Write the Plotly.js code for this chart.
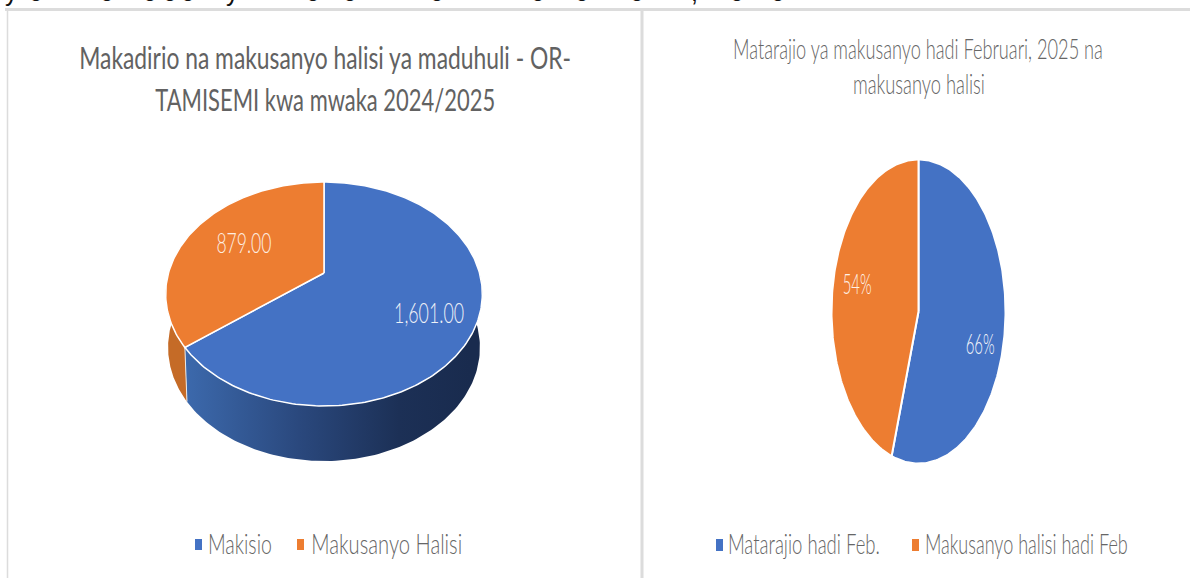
<!DOCTYPE html>
<html>
<head>
<meta charset="utf-8">
<script src="https://cdn.plot.ly/plotly-3.0.1.min.js"></script>
<style>html,body{margin:0;padding:0;background:#fff;overflow:hidden}#chart{width:1190px;height:578px}</style>
</head>
<body>
<div id="chart"></div>
<script>
// ---- data ----
const leftCategories = ["Makisio", "Makusanyo Halisi"];
const leftValues = [1601, 879];
const leftLabels = ["1,601.00", "879.00"];
const rightCategories = ["Matarajio hadi Feb.", "Makusanyo halisi hadi Feb"];
const rightValues = [66, 54];
const rightLabels = ["66%", "54%"];
const leftTitle = ["Makadirio na makusanyo halisi ya maduhuli - OR-", "TAMISEMI kwa mwaka 2024/2025"];
const rightTitle = ["Matarajio ya makusanyo hadi Februari, 2025 na", "makusanyo halisi"];
const sliceColors = ["#4472c4", "#ed7d31"];

// ---- styling / projection of the discs ----
const thinFont = "Lato, 'Open Sans', sans-serif";
const tilted = {cx: 324, R: 155.5, a: 56.9, b: 273, c: -0.1875};
const flat = {cx: 918.5, rx: 87, cy: 311.5, ry: 152};

function tiltedPoint(frac) {
  const t = frac * 2 * Math.PI, u = Math.sin(t), v = -Math.cos(t);
  const d = 1 + tilted.c * v;
  return {x: tilted.cx + tilted.R * u / d, y: (tilted.a * v + tilted.b) / d, v};
}
function wallPoint(frac) {
  const p = tiltedPoint(frac);
  return {x: tilted.cx + 0.985 * (p.x - tilted.cx), y: p.y + 53 + 2 * p.v};
}
function flatPoint(frac) {
  const t = frac * 2 * Math.PI;
  return {x: flat.cx + flat.rx * Math.sin(t), y: flat.cy - flat.ry * Math.cos(t)};
}
function spans(values) {
  const total = values.reduce((a, b) => a + b, 0);
  let acc = 0;
  return values.map(v => { const s = acc / total; acc += v; return [s, acc / total]; });
}
function slice(span, pointAt, apex, color, name, seam) {
  const xs = [apex.x], ys = [apex.y];
  const n = Math.max(2, Math.ceil((span[1] - span[0]) * 360));
  for (let i = 0; i <= n; i++) {
    const p = pointAt(span[0] + (span[1] - span[0]) * i / n);
    xs.push(p.x); ys.push(p.y);
  }
  xs.push(apex.x); ys.push(apex.y);
  return {type: "scatter", mode: "lines", x: xs, y: ys, fill: "toself", fillcolor: color, name,
          line: {color: "#ffffff", width: seam}, hoverinfo: "name", showlegend: false};
}
function wall(from, to, extra) {
  const xs = [], ys = [], n = 120;
  for (let i = 0; i <= n; i++) { const p = tiltedPoint(from + (to - from) * i / n); xs.push(p.x); ys.push(p.y); }
  for (let i = n; i >= 0; i--) { const p = wallPoint(from + (to - from) * i / n); xs.push(p.x); ys.push(p.y); }
  xs.push(xs[0]); ys.push(ys[0]);
  return Object.assign({type: "scatter", mode: "lines", x: xs, y: ys, fill: "toself",
    line: {width: 0}, hoverinfo: "skip", showlegend: false}, extra);
}
const traces = [];
const lSpans = spans(leftValues), rSpans = spans(rightValues);

// extruded wall of the tilted pie
traces.push(wall(0.24, lSpans[0][1], {fillgradient: {type: "horizontal", start: 186, stop: 470,
  colorscale: [[0, "rgb(60,105,172)"], [0.4, "rgb(42,72,125)"], [0.75, "rgb(28,48,86)"], [1, "rgb(25,43,78)"]]}}));
traces.push(wall(lSpans[1][0], 0.76, {fillcolor: "#c56b27"}));
const seamTop = tiltedPoint(lSpans[0][1]), seamBot = wallPoint(lSpans[0][1]);
traces.push({type: "scatter", mode: "lines", x: [seamTop.x, seamBot.x], y: [seamTop.y, seamBot.y],
  line: {color: "#e9e9e9", width: 1}, hoverinfo: "skip", showlegend: false});

// top faces
lSpans.forEach((sp, k) => traces.push(slice(sp, tiltedPoint, {x: tilted.cx, y: tilted.b}, sliceColors[k], leftCategories[k], 1.5)));
rSpans.forEach((sp, k) => traces.push(slice(sp, flatPoint, {x: flat.cx, y: flat.cy}, sliceColors[k], rightCategories[k], 2)));

// legend keys
[[198.5, 0, 539, 550], [300.5, 1, 539, 550], [719.5, 0, 539, 551], [915.5, 1, 539, 551]].forEach(k => {
  traces.push({type: "scatter", mode: "lines", x: [k[0], k[0]], y: [k[2], k[3]],
    line: {color: sliceColors[k[1]], width: 7}, hoverinfo: "skip", showlegend: false});
});

const squeezed = [];
function note(text, x, y, size, color, width, weight) {
  squeezed.push(width);
  return {text, x, y, xref: "x", yref: "y", showarrow: false, xanchor: "center", yanchor: "middle",
    font: {size, color, family: thinFont, weight: weight || 300}, borderpad: 0};
}
const grey = "#666666";
const annotations = [
  note(leftTitle[0], 325, 57, 30, "#626262", 492, 400),
  note(leftTitle[1], 325, 99, 30, "#626262", 340, 400),
  note(rightTitle[0], 918, 47.5, 28, grey, 370),
  note(rightTitle[1], 919, 82.5, 28, grey, 132),
  note(leftLabels[0], 429, 311.5, 28, "#eef1f7", 70),
  note(leftLabels[1], 243.5, 241.5, 28, "#fdeee2", 55),
  note(rightLabels[0], 979.5, 343, 28, "#f2f5fa", 29),
  note(rightLabels[1], 857, 283, 28, "#fff2e8", 29),
  note(leftCategories[0], 240, 542.5, 28, grey, 64),
  note(leftCategories[1], 386.5, 542.5, 28, grey, 151),
  note(rightCategories[0], 804, 542.5, 28, grey, 152),
  note(rightCategories[1], 1026.5, 542.5, 28, grey, 203)
];
// the line of document text cut off by the top edge
[["y", 11], ["o", 36], ["o", 107], ["o", 150], ["o", 170], ["o", 188], ["y", 232], ["o", 313], ["o", 350], ["o", 437],
 ["o", 538], ["o", 582], ["o", 637], [",", 694], ["o", 737], ["o", 778]].forEach(g => {
  annotations.push({text: g[0], x: g[1], y: 6.5, xref: "x", yref: "y", showarrow: false, xanchor: "center", yanchor: "bottom",
    borderpad: 0, font: {size: 25, color: "#111111", family: "'Liberation Sans',sans-serif"}});
});

const edge = "#dcdcdc";
const line = (x0, y0, x1, y1, w) => ({type: "line", xref: "x", yref: "y", x0, y0, x1, y1, line: {color: edge, width: w}, layer: "below"});
const layout = {
  width: 1190, height: 578, margin: {l: 0, r: 0, t: 0, b: 0},
  paper_bgcolor: "#ffffff", plot_bgcolor: "#ffffff", showlegend: false,
  xaxis: {range: [0, 1190], visible: false, fixedrange: true},
  yaxis: {range: [578, 0], visible: false, fixedrange: true},
  shapes: [line(5, 9.5, 1190, 9.5, 3), line(7.5, 9, 7.5, 578, 1.5), line(642, 9, 642, 578, 3)],
  annotations
};
Plotly.newPlot("chart", traces, layout, {displayModeBar: false, staticPlot: true}).then(gd => {
  const nodes = gd.querySelectorAll(".annotation-text");
  squeezed.forEach((w, i) => {
    const k = w / nodes[i].getComputedTextLength();
    nodes[i].style.transformBox = "fill-box";
    nodes[i].style.transformOrigin = "center";
    nodes[i].style.transform = `scaleX(${k})`;
  });
});
</script>
</body>
</html>
